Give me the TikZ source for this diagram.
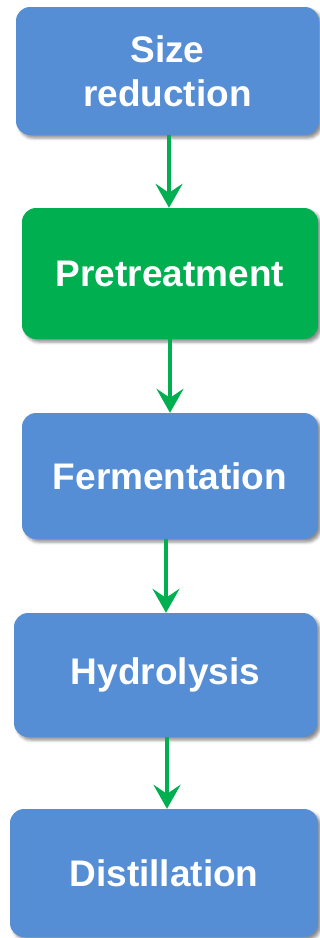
\documentclass[tikz,border=0pt]{standalone}
\usepackage{fontspec}
\setmainfont{Liberation Sans}
\usetikzlibrary{arrows.meta,shadows.blur}
\definecolor{boxblue}{HTML}{558ED5}
\definecolor{boxgreen}{HTML}{00B050}
\definecolor{arrowgreen}{HTML}{00B050}
\tikzset{
  stagebox/.style={rounded corners=14pt, inner sep=0pt, align=center,
    text=white, font=\fontsize{37}{44}\selectfont\bfseries,
    blur shadow={shadow xshift=3pt, shadow yshift=-3pt, shadow blur radius=3pt, shadow opacity=45}},
  flowarrow/.style={draw=arrowgreen, line width=3.5pt,
    -{Stealth[length=24pt, width=27pt, inset=9pt]}}
}
\begin{document}
\begin{tikzpicture}[x=1pt,y=1pt]
\useasboundingbox (0,0) rectangle (320,-938);
\node[stagebox, fill=boxblue, minimum width=303pt, minimum height=128pt] (b1) at (167.5,-71) {Size\\reduction};
\node[stagebox, fill=boxgreen, minimum width=296pt, minimum height=131pt] (b2) at (170,-273.5) {\raisebox{-2pt}{Pretreatment}};
\node[stagebox, fill=boxblue, minimum width=296pt, minimum height=126pt] (b3) at (170,-476) {\raisebox{-2pt}{Fermentation}};
\node[stagebox, fill=boxblue, minimum width=303pt, minimum height=124pt] (b4) at (165.5,-675) {\raisebox{-2pt}{Hydrolysis}};
\node[stagebox, fill=boxblue, minimum width=308pt, minimum height=128pt] (b5) at (164,-873) {\raisebox{-2pt}{Distillation}};
\coordinate (a1) at (169,0);
\coordinate (a2) at (170,0);
\coordinate (a3) at (166,0);
\coordinate (a4) at (167,0);
\draw[flowarrow] (b1.south -| a1) -- (b2.north -| a1);
\draw[flowarrow] (b2.south -| a2) -- (b3.north -| a2);
\draw[flowarrow] (b3.south -| a3) -- (b4.north -| a3);
\draw[flowarrow] (b4.south -| a4) -- (b5.north -| a4);
\end{tikzpicture}
\end{document}
